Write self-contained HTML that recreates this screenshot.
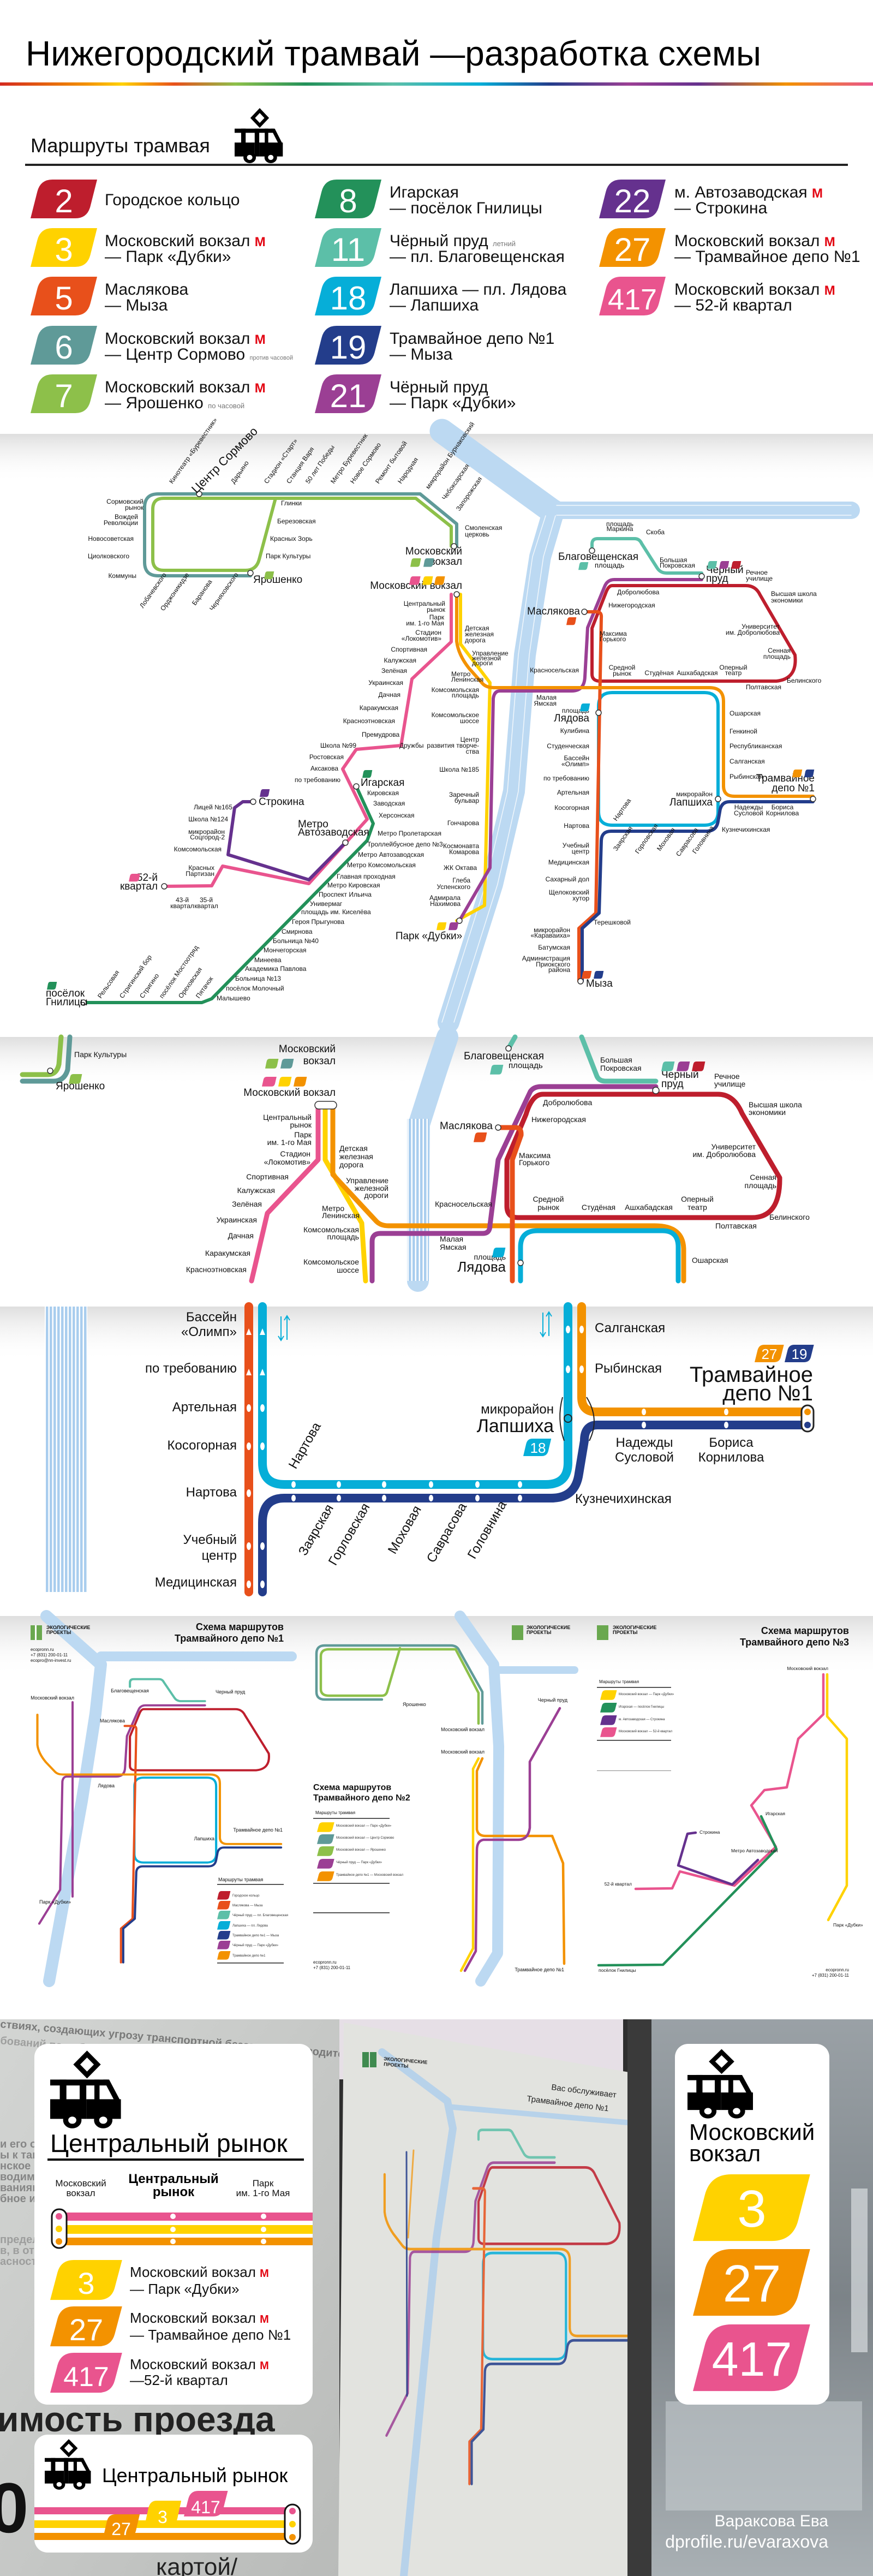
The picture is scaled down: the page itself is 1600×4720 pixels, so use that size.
<!DOCTYPE html>
<html lang="ru"><head><meta charset="utf-8"><title>Нижегородский трамвай — разработка схемы</title>
<style>
html,body{margin:0;padding:0;background:#fff;}
body{width:1600px;height:4720px;overflow:hidden;}
svg{display:block;}
.t{font-family:"Liberation Sans Narrow","Liberation Sans",sans-serif;}
.g{font-family:"Liberation Sans",sans-serif;}
.s{font-family:"Liberation Sans Narrow","Liberation Sans",sans-serif;font-size:12px;fill:#111;}
.sb{font-family:"Liberation Sans Narrow","Liberation Sans",sans-serif;font-size:19px;fill:#111;}
.e{text-anchor:end;}
.m{text-anchor:middle;}
.w{fill:#fff;}
.ln{fill:none;stroke-linejoin:round;stroke-linecap:round;}
</style></head>
<body>
<svg width="1600" height="4720" viewBox="0 0 1600 4720" xmlns="http://www.w3.org/2000/svg">
<defs>
<linearGradient id="rb" x1="0" x2="1" y1="0" y2="0">
<stop offset="0" stop-color="#d42a1f"/><stop offset=".1" stop-color="#f39200"/><stop offset=".14" stop-color="#ffd200"/><stop offset=".2" stop-color="#e8501b"/><stop offset=".27" stop-color="#8dc04a"/><stop offset=".35" stop-color="#23915a"/><stop offset=".45" stop-color="#5cbfa8"/><stop offset=".55" stop-color="#06aed8"/><stop offset=".63" stop-color="#233d8b"/><stop offset=".72" stop-color="#9b3f94"/><stop offset=".8" stop-color="#65318e"/><stop offset=".9" stop-color="#f39200"/><stop offset="1" stop-color="#e9548e"/>
</linearGradient>
<linearGradient id="gg" x1="0" x2="0" y1="0" y2="1"><stop offset="0" stop-color="#dedede"/><stop offset="1" stop-color="#fff" stop-opacity="0"/></linearGradient>
<linearGradient id="paper" x1="0" x2="1" y1="0" y2="1"><stop offset="0" stop-color="#d3d5d3"/><stop offset="1" stop-color="#b9bbb9"/></linearGradient>
<linearGradient id="win" x1="0" x2="0" y1="0" y2="1"><stop offset="0" stop-color="#9aa1a6"/><stop offset=".5" stop-color="#7c8388"/><stop offset="1" stop-color="#a9b0b4"/></linearGradient>
<pattern id="rv" width="7" height="7" patternUnits="userSpaceOnUse"><rect width="7" height="7" fill="#ffffff"/><rect width="4.5" height="7" fill="#a9cdee"/></pattern>
<path id="bd" d="M40,0 H122 L109.6,49 Q104,71 82,71 H0 L12.4,22 Q18,0 40,0 Z"/>
<g id="tram">
<polygon points="50,3 64,19 50,35 36,19" fill="none" stroke="#000" stroke-width="7"/>
<rect x="0" y="42" width="78" height="9" fill="#000"/>
<rect x="13" y="42" width="9" height="34" fill="#000"/>
<rect x="40" y="42" width="9" height="60" fill="#000"/>
<rect x="60" y="42" width="7" height="34" fill="#000"/>
<polygon points="72,42 80,42 96,76 88,76" fill="#000"/>
<rect x="0" y="72" width="40" height="30" fill="#000"/>
<rect x="49" y="72" width="47" height="30" fill="#000"/>
<circle cx="30" cy="104" r="9" fill="#fff" stroke="#000" stroke-width="7"/>
<circle cx="72" cy="104" r="9" fill="#fff" stroke="#000" stroke-width="7"/>
</g>
<g id="R" class="ln" stroke-width="6">
<path stroke="#5cbfa8" d="M1085,1009 L1085,997 Q1085,987 1095,987 L1163,987 Q1172,987 1176,996 L1204,1040 Q1210,1050 1222,1050 L1286,1050"/>
<path stroke="#9b3f94" d="M1286,1062 L1126,1062 Q1113,1062 1108,1075 L1077,1150 L1072,1240 Q1071,1266 1048,1266 L916,1266 Q906,1266 904,1280 L898,1590 L842,1687"/>
<path stroke="#be1e2d" d="M1122,1073 L1367,1073 Q1385,1073 1393,1090 L1457,1200 Q1462,1244 1423,1248 L1100,1248 Q1085,1248 1085,1235 L1085,1151 L1110,1087 Q1115,1073 1122,1073 Z"/>
<path stroke="#06aed8" d="M1122,1269 H1291 Q1316,1269 1316,1294 V1487 Q1316,1512 1291,1512 H1122 Q1097,1512 1097,1487 V1294 Q1097,1269 1122,1269 Z"/>
<path stroke="#e8501b" d="M1071,1121 L1094,1121 Q1103,1121 1102,1132 L1092,1673 L1061,1701 L1061,1798"/>
<path stroke="#233d8b" d="M1490,1469 L1337,1469 Q1321,1469 1319,1488 L1316,1505 Q1313,1523 1295,1523 L1120,1523 Q1103,1523 1102,1540 L1098,1673 L1067,1701 L1067,1798"/>
<path stroke="#f39200" d="M837,1089 L837,1175 Q840,1200 860,1225 L884,1252 Q891,1260 905,1260 L1300,1260 Q1326,1260 1326,1285 L1326,1440 Q1326,1459 1346,1459 L1490,1459"/>
</g>
<g id="L" class="ln" stroke-width="6">
<path stroke="#e9548e" d="M827,1089 L827,1176 L755,1244 L735,1366 L653,1373 L628,1409 L673,1501 L566,1619 L408,1587 L388,1623 L301,1624"/>
<path stroke="#23915a" d="M653,1441 L684,1509 L673,1540 L388,1830 L370,1837 L153,1837"/>
<path stroke="#65318e" d="M464,1469 L445,1469 L430,1480 L418,1566 L566,1612 L633,1544"/>
</g>
</defs>

<!-- ============ HEADER ============ -->
<rect width="1600" height="4720" fill="#fff"/>
<text x="47" y="120" class="t" font-size="64" fill="#000">Нижегородский трамвай —разработка схемы</text>
<rect x="0" y="151" width="1600" height="6" fill="url(#rb)"/>

<text x="56" y="279" class="t" font-size="36" fill="#111">Маршруты трамвая</text>
<use href="#tram" transform="translate(430,200) scale(0.92,0.85)"/>
<rect x="46" y="300" width="1508" height="4" fill="#222"/>

<!-- badges col1 -->
<use href="#bd" fill="#be1e2d" transform="translate(56,329)"/>
<use href="#bd" fill="#ffd200" transform="translate(56,418)"/>
<use href="#bd" fill="#e8501b" transform="translate(56,507)"/>
<use href="#bd" fill="#5f9a98" transform="translate(56,597)"/>
<use href="#bd" fill="#8dc04a" transform="translate(56,686)"/>
<use href="#bd" fill="#23915a" transform="translate(577,329)"/>
<use href="#bd" fill="#5cbfa8" transform="translate(577,418)"/>
<use href="#bd" fill="#06aed8" transform="translate(577,507)"/>
<use href="#bd" fill="#233d8b" transform="translate(577,597)"/>
<use href="#bd" fill="#9b3f94" transform="translate(577,686)"/>
<use href="#bd" fill="#65318e" transform="translate(1098,329)"/>
<use href="#bd" fill="#f39200" transform="translate(1098,418)"/>
<use href="#bd" fill="#e9548e" transform="translate(1098,507)"/>
<g class="t w m" font-size="60">
<text x="117" y="389">2</text><text x="117" y="478">3</text><text x="117" y="567">5</text><text x="117" y="657">6</text><text x="117" y="746">7</text>
<text x="638" y="389">8</text><text x="638" y="478">11</text><text x="638" y="567">18</text><text x="638" y="657">19</text><text x="638" y="746">21</text>
<text x="1159" y="389">22</text><text x="1159" y="478">27</text><text x="1159" y="567" font-size="54">417</text>
</g>
<g class="t" font-size="30" fill="#111">
<text x="192" y="376">Городское кольцо</text>
<text x="192" y="451">Московский вокзал <tspan fill="#e30613" font-weight="bold" font-size="24">М</tspan></text><text x="192" y="480">— Парк «Дубки»</text>
<text x="192" y="540">Маслякова</text><text x="192" y="569">— Мыза</text>
<text x="192" y="630">Московский вокзал <tspan fill="#e30613" font-weight="bold" font-size="24">М</tspan></text><text x="192" y="659">— Центр Сормово <tspan font-size="11" fill="#777">против часовой</tspan></text>
<text x="192" y="719">Московский вокзал <tspan fill="#e30613" font-weight="bold" font-size="24">М</tspan></text><text x="192" y="748">— Ярошенко <tspan font-size="13" fill="#777">по часовой</tspan></text>
<text x="714" y="362">Игарская</text><text x="714" y="391">— посёлок Гнилицы</text>
<text x="714" y="451">Чёрный пруд <tspan font-size="13" fill="#777">летний</tspan></text><text x="714" y="480">— пл. Благовещенская</text>
<text x="714" y="540">Лапшиха — пл. Лядова</text><text x="714" y="569">— Лапшиха</text>
<text x="714" y="630">Трамвайное депо №1</text><text x="714" y="659">— Мыза</text>
<text x="714" y="719">Чёрный пруд</text><text x="714" y="748">— Парк «Дубки»</text>
<text x="1236" y="362">м. Автозаводская <tspan fill="#e30613" font-weight="bold" font-size="24">М</tspan></text><text x="1236" y="391">— Строкина</text>
<text x="1236" y="451">Московский вокзал <tspan fill="#e30613" font-weight="bold" font-size="24">М</tspan></text><text x="1236" y="480">— Трамвайное депо №1</text>
<text x="1236" y="540">Московский вокзал <tspan fill="#e30613" font-weight="bold" font-size="24">М</tspan></text><text x="1236" y="569">— 52-й квартал</text>
</g>

<!-- ============ MAIN MAP ============ -->
<rect x="0" y="795" width="1600" height="90" fill="url(#gg)"/>
<g class="ln" stroke="#bcd9f2">
<path stroke-width="45" d="M810,790 L1010,935"/>
<path stroke-width="32" d="M1010,935 L1560,935"/>
<path stroke-width="40" d="M1015,935 L990,1020 L962,1200 L942,1450 L902,1620 L822,1873"/>
</g>
<g class="ln" stroke="#fff" stroke-width="1.5" opacity=".8">
<path d="M1020,926 L1560,926"/><path d="M1020,944 L1560,944"/>
<path d="M1000,945 L976,1020 L950,1200 L930,1450 L890,1620 L810,1873"/>
<path d="M1018,945 L996,1020 L970,1200 L950,1450 L912,1620 L832,1873"/>
</g>
<g class="ln" stroke-width="6">
<path stroke="#5f9a98" d="M837,1001 L837,960 L770,905 L290,905 Q265,905 265,930 L265,1030 Q265,1055 290,1055 L459,1055"/>
<path stroke="#8dc04a" d="M827,1001 L827,965 L762,913 L300,913 Q280,913 280,933 L280,1025 Q280,1045 300,1045 L450,1045 Q470,1045 475,1025 L505,913"/>
<path stroke="#ffd200" d="M844,1089 L844,1180 L898,1251 L888,1659 L837,1687"/>
</g>
<use href="#L"/>
<use href="#R"/>
<g fill="#fff" stroke="#333" stroke-width="1.5">
<circle cx="837" cy="1089" r="5"/><circle cx="832" cy="1001" r="5"/><circle cx="459" cy="1050" r="5"/><circle cx="1085" cy="1009" r="5"/><circle cx="1286" cy="1056" r="5"/><circle cx="1071" cy="1121" r="5"/><circle cx="1490" cy="1464" r="5"/><circle cx="1064" cy="1798" r="5"/><circle cx="842" cy="1687" r="5"/><circle cx="301" cy="1624" r="5"/><circle cx="153" cy="1837" r="5"/><circle cx="464" cy="1469" r="5"/><circle cx="653" cy="1441" r="5"/><circle cx="633" cy="1544" r="5"/><circle cx="1097" cy="1306" r="5"/><circle cx="1316" cy="1464" r="5"/><circle cx="365" cy="905" r="5"/>
</g>
<g class="s">
<text x="263" y="923" class="e">Сормовский</text><text x="263" y="934" class="e">рынок</text>
<text x="253" y="951" class="e">Вождей</text><text x="253" y="962" class="e">Революции</text>
<text x="245" y="991" class="e">Новосоветская</text>
<text x="237" y="1023" class="e">Циолковского</text>
<text x="250" y="1059" class="e">Коммуны</text>
<text x="515" y="926">Глинки</text><text x="508" y="959">Березовская</text><text x="495" y="991">Красных Зорь</text><text x="487" y="1023">Парк Культуры</text>
<text x="852" y="971">Смоленская</text><text x="852" y="983">церковь</text>
<text x="816" y="1110" class="e">Центральный</text><text x="816" y="1121" class="e">рынок</text>
<text x="814" y="1135" class="e">Парк</text><text x="814" y="1146" class="e">им. 1-го Мая</text>
<text x="809" y="1163" class="e">Стадион</text><text x="809" y="1174" class="e">«Локомотив»</text>
<text x="783" y="1194" class="e">Спортивная</text><text x="763" y="1214" class="e">Калужская</text><text x="746" y="1233" class="e">Зелёная</text><text x="739" y="1255" class="e">Украинская</text><text x="734" y="1277" class="e">Дачная</text><text x="730" y="1301" class="e">Каракумская</text><text x="724" y="1325" class="e">Красноэтновская</text>
<text x="663" y="1350">Премудрова</text><text x="653" y="1370" class="e">Школа №99</text><text x="732" y="1370">Дружбы</text><text x="630" y="1391" class="e">Ростовская</text><text x="620" y="1412" class="e">Аксакова</text><text x="624" y="1433" class="e">по требованию</text>
<text x="673" y="1457">Кировская</text><text x="684" y="1476">Заводская</text><text x="694" y="1498">Херсонская</text><text x="692" y="1531">Метро Пролетарская</text><text x="673" y="1551">Троллейбусное депо №3</text><text x="656" y="1570">Метро Автозаводская</text><text x="636" y="1589">Метро Комсомольская</text><text x="617" y="1610">Главная проходная</text><text x="600" y="1626">Метро Кировская</text><text x="584" y="1643">Проспект Ильича</text><text x="568" y="1660">Универмаг</text><text x="552" y="1675">площадь им. Киселёва</text><text x="535" y="1693">Героя Прыгунова</text><text x="516" y="1711">Смирнова</text><text x="500" y="1728">Больница №40</text><text x="483" y="1745">Мончегорская</text><text x="466" y="1763">Минеева</text><text x="449" y="1779">Академика Павлова</text><text x="431" y="1797">Больница №13</text><text x="414" y="1815">посёлок Молочный</text><text x="397" y="1833">Малышево</text>
<text x="426" y="1483" class="e">Лицей №165</text><text x="418" y="1505" class="e">Школа №124</text><text x="412" y="1528" class="e">микрорайон</text><text x="412" y="1538" class="e">Соцгород-2</text><text x="406" y="1560" class="e">Комсомольская</text><text x="393" y="1594" class="e">Красных</text><text x="393" y="1605" class="e">Партизан</text>
<text x="334" y="1653" class="m">43-й</text><text x="334" y="1664" class="m">квартал</text><text x="378" y="1653" class="m">35-й</text><text x="378" y="1664" class="m">квартал</text>
<text x="852" y="1155">Детская</text><text x="852" y="1166">железная</text><text x="852" y="1177">дорога</text>
<text x="865" y="1201">Управление</text><text x="865" y="1210">железной</text><text x="865" y="1219">дороги</text>
<text x="827" y="1239">Метро</text><text x="827" y="1249">Ленинская</text>
<text x="878" y="1268" class="e">Комсомольская</text><text x="878" y="1278" class="e">площадь</text>
<text x="878" y="1314" class="e">Комсомольское</text><text x="878" y="1325" class="e">шоссе</text>
<text x="878" y="1359" class="e">Центр</text><text x="878" y="1370" class="e">развития творче-</text><text x="878" y="1381" class="e">ства</text>
<text x="878" y="1414" class="e">Школа №185</text><text x="878" y="1460" class="e">Заречный</text><text x="878" y="1471" class="e">бульвар</text><text x="878" y="1512" class="e">Гончарова</text><text x="878" y="1554" class="e">Космонавта</text><text x="878" y="1565" class="e">Комарова</text><text x="874" y="1594" class="e">ЖК Октава</text><text x="862" y="1617" class="e">Глеба</text><text x="862" y="1629" class="e">Успенского</text><text x="844" y="1649" class="e">Адмирала</text><text x="844" y="1660" class="e">Нахимова</text>
<text x="1136" y="964" class="m">площадь</text><text x="1136" y="973" class="m">Маркина</text><text x="1184" y="979">Скоба</text>
<text x="1209" y="1030">Большая</text><text x="1209" y="1040">Покровская</text>
<text x="1367" y="1053">Речное</text><text x="1367" y="1064">училище</text>
<text x="1131" y="1089">Добролюбова</text><text x="1115" y="1113">Нижегородская</text>
<text x="1099" y="1165">Максима</text><text x="1099" y="1175">Горького</text>
<text x="1413" y="1092">Высшая школа</text><text x="1413" y="1104">экономики</text>
<text x="1429" y="1152" class="e">Университет</text><text x="1429" y="1163" class="e">им. Добролюбова</text>
<text x="1449" y="1196" class="e">Сенная</text><text x="1449" y="1207" class="e">площадь</text>
<text x="1442" y="1251">Белинского</text><text x="1367" y="1263">Полтавская</text>
<text x="1344" y="1227" class="m">Оперный</text><text x="1344" y="1237" class="m">театр</text><text x="1278" y="1237" class="m">Ашхабадская</text><text x="1208" y="1237" class="m">Студёная</text><text x="1140" y="1227" class="m">Средной</text><text x="1140" y="1238" class="m">рынок</text>
<text x="1061" y="1232" class="e">Красносельская</text><text x="1020" y="1282" class="e">Малая</text><text x="1020" y="1293" class="e">Ямская</text>
<text x="1080" y="1306" class="e">площадь</text>
<text x="1080" y="1343" class="e">Кулибина</text><text x="1080" y="1371" class="e">Студенческая</text><text x="1080" y="1393" class="e">Бассейн</text><text x="1080" y="1404" class="e">«Олимп»</text><text x="1080" y="1430" class="e">по требованию</text><text x="1080" y="1456" class="e">Артельная</text><text x="1080" y="1484" class="e">Косогорная</text><text x="1080" y="1517" class="e">Нартова</text><text x="1080" y="1553" class="e">Учебный</text><text x="1080" y="1564" class="e">центр</text><text x="1080" y="1584" class="e">Медицинская</text><text x="1080" y="1615" class="e">Сахарный дол</text><text x="1080" y="1639" class="e">Щелоковский</text><text x="1080" y="1650" class="e">хутор</text>
<text x="1088" y="1694">Терешковой</text><text x="1045" y="1708" class="e">микрорайон</text><text x="1045" y="1718" class="e">«Караваиха»</text><text x="1045" y="1740" class="e">Батумская</text><text x="1045" y="1760" class="e">Администрация</text><text x="1045" y="1771" class="e">Приокского</text><text x="1045" y="1781" class="e">района</text>
<text x="1337" y="1311">Ошарская</text><text x="1337" y="1344">Генкиной</text><text x="1337" y="1371">Республиканская</text><text x="1337" y="1399">Салганская</text><text x="1337" y="1427">Рыбинская</text>
<text x="1306" y="1459" class="e">микрорайон</text>
<text x="1372" y="1483" class="m">Надежды</text><text x="1372" y="1494" class="m">Сусловой</text><text x="1434" y="1483" class="m">Бориса</text><text x="1434" y="1494" class="m">Корнилова</text>
<text x="1323" y="1524">Кузнечихинская</text>
<text transform="translate(316,887) rotate(-55)">Кинотеатр «Буревестник»</text>
<text transform="translate(429,887) rotate(-55)">Дарьино</text><text transform="translate(490,887) rotate(-55)">Стадион «Старт»</text><text transform="translate(531,887) rotate(-55)">Станция Варя</text><text transform="translate(566,887) rotate(-55)">50 лет Победы</text><text transform="translate(612,887) rotate(-55)">Метро Буревестник</text><text transform="translate(648,887) rotate(-55)">Новое Сормово</text><text transform="translate(694,887) rotate(-55)">Ремонт бытовой</text><text transform="translate(735,887) rotate(-55)">Народная</text><text transform="translate(786,897) rotate(-55)">микрорайон Бурнаковский</text><text transform="translate(816,917) rotate(-55)">Чебоксарская</text><text transform="translate(842,937) rotate(-55)">Запорожская</text>
<text transform="translate(262,1115) rotate(-55)">Лобачевского</text><text transform="translate(300,1120) rotate(-55)">Орджоникидзе</text><text transform="translate(358,1110) rotate(-55)">Баранова</text><text transform="translate(390,1120) rotate(-55)">Черняховского</text>
<text transform="translate(185,1830) rotate(-55)">Рельсовая</text><text transform="translate(225,1830) rotate(-55)">Стригинский бор</text><text transform="translate(262,1830) rotate(-55)">Стригино</text><text transform="translate(298,1830) rotate(-55)">посёлок Мостоотряд</text><text transform="translate(333,1830) rotate(-55)">Ореховская</text><text transform="translate(365,1830) rotate(-55)">Пятачок</text>
<text transform="translate(1130,1560) rotate(-55)">Заярская</text><text transform="translate(1170,1565) rotate(-55)">Горловская</text><text transform="translate(1210,1560) rotate(-55)">Моховая</text><text transform="translate(1245,1570) rotate(-55)">Саврасова</text><text transform="translate(1275,1565) rotate(-55)">Головнина</text><text transform="translate(1130,1505) rotate(-55)">Нартова</text>
</g>
<g class="sb">
<text x="847" y="1016" class="e">Московский</text><text x="847" y="1035" class="e">вокзал</text>
<text x="847" y="1079" class="e">Московский вокзал</text>
<text x="464" y="1068">Ярошенко</text>
<text x="1023" y="1026">Благовещенская</text><text x="1090" y="1040" font-size="13">площадь</text>
<text x="1294" y="1050">Черный</text><text x="1294" y="1066">пруд</text>
<text x="1063" y="1126" class="e">Маслякова</text>
<text x="1080" y="1322" class="e">Лядова</text>
<text x="1493" y="1432" class="e">Трамвайное</text><text x="1493" y="1450" class="e">депо №1</text>
<text x="1306" y="1476" class="e">Лапшиха</text>
<text x="1074" y="1808">Мыза</text>
<text x="786" y="1721" class="m">Парк «Дубки»</text>
<text x="661" y="1440">Игарская</text><text x="474" y="1475">Строкина</text>
<text x="546" y="1516">Метро</text><text x="546" y="1531">Автозаводская</text>
<text x="289" y="1614" class="e">52-й</text><text x="289" y="1630" class="e">квартал</text>
<text x="84" y="1826">посёлок</text><text x="84" y="1842">Гнилицы</text>
<text transform="translate(360,905) rotate(-45)" font-size="22">Центр Сормово</text>
</g>
<!-- small badges main map -->
<g>
<use href="#bd" fill="#8dc04a" transform="translate(752,1023) scale(.16,.22)"/>
<use href="#bd" fill="#5f9a98" transform="translate(776,1023) scale(.16,.22)"/>
<use href="#bd" fill="#e9548e" transform="translate(750,1056) scale(.17,.22)"/>
<use href="#bd" fill="#ffd200" transform="translate(774,1056) scale(.16,.22)"/>
<use href="#bd" fill="#f39200" transform="translate(796,1056) scale(.16,.22)"/>
<use href="#bd" fill="#5cbfa8" transform="translate(1060,1030) scale(.15,.2)"/>
<use href="#bd" fill="#5cbfa8" transform="translate(1296,1028) scale(.15,.2)"/>
<use href="#bd" fill="#9b3f94" transform="translate(1318,1028) scale(.15,.2)"/>
<use href="#bd" fill="#be1e2d" transform="translate(1340,1028) scale(.15,.2)"/>
<use href="#bd" fill="#e8501b" transform="translate(1038,1131) scale(.15,.2)"/>
<use href="#bd" fill="#06aed8" transform="translate(1063,1289) scale(.15,.2)"/>
<use href="#bd" fill="#f39200" transform="translate(1452,1410) scale(.15,.2)"/>
<use href="#bd" fill="#233d8b" transform="translate(1474,1410) scale(.15,.2)"/>
<use href="#bd" fill="#e8501b" transform="translate(1066,1779) scale(.15,.2)"/>
<use href="#bd" fill="#233d8b" transform="translate(1088,1779) scale(.15,.2)"/>
<use href="#bd" fill="#ffd200" transform="translate(800,1690) scale(.15,.2)"/>
<use href="#bd" fill="#9b3f94" transform="translate(822,1690) scale(.15,.2)"/>
<use href="#bd" fill="#23915a" transform="translate(664,1411) scale(.15,.2)"/>
<use href="#bd" fill="#65318e" transform="translate(476,1446) scale(.15,.2)"/>
<use href="#bd" fill="#e9548e" transform="translate(236,1601) scale(.17,.2)"/>
<use href="#bd" fill="#23915a" transform="translate(86,1799) scale(.15,.2)"/>
<use href="#bd" fill="#8dc04a" transform="translate(484,1047) scale(.15,.2)"/>
</g>

<!-- ============ SECTION 2 ============ -->
<rect x="0" y="1900" width="1600" height="90" fill="url(#gg)"/>
<g class="ln">
<path stroke="#bcd9f2" stroke-width="40" d="M820,1900 L800,1960 L768,2060 L766,2347"/>
</g>
<rect x="746" y="2050" width="40" height="297" fill="url(#rv)"/>
<g class="ln" stroke-width="9">
<path stroke="#8dc04a" d="M112,1900 L108,1950 Q104,1969 88,1969 L41,1969"/>
<path stroke="#5f9a98" d="M128,1900 L124,1960 Q118,1981 98,1981 L41,1981"/>
<path stroke="#5cbfa8" d="M944,1900 L932,1921"/>
<path stroke="#5cbfa8" d="M1066,1900 L1094,1972 Q1098,1981 1110,1981 L1202,1981"/>
<path stroke="#e9548e" d="M583,2024 L583,2125 L490,2223 L461,2347"/>
<path stroke="#ffd200" d="M596,2024 L596,2125 L663,2241 L670,2347"/>
<path stroke="#f39200" d="M610,2024 L610,2152 L690,2238 Q698,2246 712,2246 L1200,2246 Q1253,2246 1253,2290 L1253,2347"/>
<path stroke="#9b3f94" d="M682,2347 L682,2275 Q682,2260 697,2260 L885,2260 Q898,2260 898,2245 L913,2125 L972,2000 Q978,1991 992,1991 L1202,1991"/>
<path stroke="#be1e2d" d="M1202,2005 L1316,2005 Q1345,2005 1360,2040 L1429,2158 Q1430,2231 1378,2231 L949,2231 Q929,2231 929,2210 L929,2125 L964,2042 Q975,2005 995,2005 Z"/>
<path stroke="#e8501b" d="M913,2066 L945,2066 Q956,2066 955,2080 L939,2125 L939,2347"/>
<path stroke="#06aed8" d="M954,2347 L954,2285 Q954,2255 985,2255 L1214,2255 Q1243,2255 1243,2285 L1243,2347"/>
</g>
<g fill="#fff" stroke="#333" stroke-width="1.5"><rect x="577" y="2018" width="40" height="14" rx="7"/><circle cx="913" cy="2066" r="5"/><circle cx="932" cy="1921" r="5"/><circle cx="954" cy="2314" r="5"/><circle cx="1202" cy="1998" r="6"/><circle cx="92" cy="1962" r="5"/></g>
<g class="s" font-size="14">
<text x="136" y="1937" font-size="14">Парк Культуры</text>
<text x="1100" y="1947" font-size="14">Большая</text><text x="1100" y="1962" font-size="14">Покровская</text>
<text x="1309" y="1977" font-size="14">Речное</text><text x="1309" y="1991" font-size="14">училище</text>
<text x="995" y="2025" font-size="14">Добролюбова</text><text x="974" y="2056" font-size="14">Нижегородская</text>
<text x="1372" y="2029" font-size="14">Высшая школа</text><text x="1372" y="2043" font-size="14">экономики</text>
<text x="1385" y="2106" font-size="14" class="e">Университет</text><text x="1385" y="2120" font-size="14" class="e">им. Добролюбова</text>
<text x="951" y="2122" font-size="14">Максима</text><text x="951" y="2135" font-size="14">Горького</text>
<text x="1423" y="2162" font-size="14" class="e">Сенная</text><text x="1423" y="2177" font-size="14" class="e">площадь</text>
<text x="571" y="2052" font-size="14" class="e">Центральный</text><text x="571" y="2066" font-size="14" class="e">рынок</text>
<text x="571" y="2084" font-size="14" class="e">Парк</text><text x="571" y="2098" font-size="14" class="e">им. 1-го Мая</text>
<text x="569" y="2119" font-size="14" class="e">Стадион</text><text x="569" y="2134" font-size="14" class="e">«Локомотив»</text>
<text x="622" y="2109" font-size="14">Детская</text><text x="622" y="2124" font-size="14">железная</text><text x="622" y="2139" font-size="14">дорога</text>
<text x="529" y="2161" font-size="14" class="e">Спортивная</text><text x="504" y="2186" font-size="14" class="e">Калужская</text>
<text x="712" y="2168" font-size="14" class="e">Управление</text><text x="712" y="2182" font-size="14" class="e">железной</text><text x="712" y="2195" font-size="14" class="e">дороги</text>
<text x="480" y="2211" font-size="14" class="e">Зелёная</text><text x="902" y="2211" font-size="14" class="e">Красносельская</text>
<text x="1005" y="2202" font-size="14" class="m">Средной</text><text x="1005" y="2217" font-size="14" class="m">рынок</text>
<text x="1097" y="2217" font-size="14" class="m">Студёная</text><text x="1189" y="2217" font-size="14" class="m">Ашхабадская</text>
<text x="1278" y="2202" font-size="14" class="m">Оперный</text><text x="1278" y="2217" font-size="14" class="m">театр</text>
<text x="590" y="2219" font-size="14">Метро</text><text x="590" y="2232" font-size="14">Ленинская</text>
<text x="1410" y="2235" font-size="14">Белинского</text><text x="471" y="2240" font-size="14" class="e">Украинская</text><text x="1311" y="2251" font-size="14">Полтавская</text>
<text x="658" y="2258" font-size="14" class="e">Комсомольская</text><text x="658" y="2271" font-size="14" class="e">площадь</text>
<text x="465" y="2269" font-size="14" class="e">Дачная</text><text x="806" y="2275" font-size="14">Малая</text><text x="806" y="2290" font-size="14">Ямская</text>
<text x="927" y="2308" font-size="14" class="e">площадь</text><text x="459" y="2301" font-size="14" class="e">Каракумская</text><text x="1268" y="2314" font-size="14">Ошарская</text>
<text x="658" y="2317" font-size="14" class="e">Комсомольское</text><text x="658" y="2332" font-size="14" class="e">шоссе</text><text x="452" y="2331" font-size="14" class="e">Красноэтновская</text>
</g>
<g class="sb" font-size="22">
<text x="615" y="1928" class="e">Московский</text><text x="615" y="1950" class="e">вокзал</text>
<text x="615" y="2008" class="e">Московский вокзал</text>
<text x="102" y="1996">Ярошенко</text>
<text x="850" y="1941">Благовещенская</text><text x="932" y="1957" font-size="15">площадь</text>
<text x="1212" y="1975">Черный</text><text x="1212" y="1992">пруд</text>
<text x="903" y="2069" class="e">Маслякова</text>
<text x="927" y="2330" class="e" font-size="26">Лядова</text>
</g>
<g>
<use href="#bd" fill="#8dc04a" transform="translate(486,1940) scale(.2,.25)"/><use href="#bd" fill="#5f9a98" transform="translate(514,1940) scale(.2,.25)"/>
<use href="#bd" fill="#e9548e" transform="translate(480,1973) scale(.22,.25)"/><use href="#bd" fill="#ffd200" transform="translate(510,1973) scale(.2,.25)"/><use href="#bd" fill="#f39200" transform="translate(538,1973) scale(.2,.25)"/>
<use href="#bd" fill="#8dc04a" transform="translate(126,1968) scale(.2,.25)"/>
<use href="#bd" fill="#5cbfa8" transform="translate(898,1951) scale(.2,.25)"/>
<use href="#bd" fill="#5cbfa8" transform="translate(1212,1945) scale(.2,.25)"/><use href="#bd" fill="#9b3f94" transform="translate(1240,1945) scale(.2,.25)"/><use href="#bd" fill="#be1e2d" transform="translate(1268,1945) scale(.2,.25)"/>
<use href="#bd" fill="#e8501b" transform="translate(868,2075) scale(.2,.25)"/>
<use href="#bd" fill="#06aed8" transform="translate(902,2286) scale(.2,.25)"/>
</g>

<!-- ============ SECTION 3 Lapshikha ============ -->
<rect x="0" y="2394" width="1600" height="100" fill="url(#gg)"/>
<rect x="82" y="2394" width="78" height="523" fill="url(#rv)"/>
<g class="ln" stroke-width="16" stroke-linecap="butt">
<path stroke="#e8501b" d="M456,2394 L456,2917"/>
<path stroke="#06aed8" d="M481,2394 L481,2680 Q481,2720 521,2720 L1000,2720 Q1041,2720 1041,2680 L1041,2394"/>
<path stroke="#f39200" d="M1066,2394 L1066,2560 Q1066,2587 1093,2587 L1480,2587"/>
<path stroke="#233d8b" d="M1480,2611 L1095,2611 Q1071,2611 1071,2640 L1061,2700 Q1055,2745 1010,2745 L521,2745 Q481,2745 481,2790 L481,2917"/>
</g>
<g fill="#fff"><ellipse cx="456" cy="2580" rx="4" ry="7"/><ellipse cx="481" cy="2580" rx="4" ry="7"/><ellipse cx="456" cy="2650" rx="4" ry="7"/><ellipse cx="481" cy="2650" rx="4" ry="7"/><ellipse cx="456" cy="2736" rx="4" ry="7"/><ellipse cx="456" cy="2833" rx="4" ry="7"/><ellipse cx="481" cy="2833" rx="4" ry="7"/><ellipse cx="456" cy="2903" rx="4" ry="7"/><ellipse cx="481" cy="2903" rx="4" ry="7"/>
<ellipse cx="1041" cy="2436" rx="4" ry="7"/><ellipse cx="1066" cy="2436" rx="4" ry="7"/><ellipse cx="1041" cy="2509" rx="4" ry="7"/><ellipse cx="1066" cy="2509" rx="4" ry="7"/>
<ellipse cx="1180" cy="2587" rx="4" ry="6"/><ellipse cx="1331" cy="2587" rx="4" ry="6"/><ellipse cx="1180" cy="2611" rx="4" ry="6"/><ellipse cx="1331" cy="2611" rx="4" ry="6"/>
<ellipse cx="538" cy="2720" rx="4" ry="6"/><ellipse cx="621" cy="2720" rx="4" ry="6"/><ellipse cx="704" cy="2720" rx="4" ry="6"/><ellipse cx="790" cy="2720" rx="4" ry="6"/><ellipse cx="875" cy="2720" rx="4" ry="6"/><ellipse cx="953" cy="2720" rx="4" ry="6"/>
<ellipse cx="538" cy="2745" rx="4" ry="6"/><ellipse cx="621" cy="2745" rx="4" ry="6"/><ellipse cx="704" cy="2745" rx="4" ry="6"/><ellipse cx="790" cy="2745" rx="4" ry="6"/><ellipse cx="875" cy="2745" rx="4" ry="6"/><ellipse cx="953" cy="2745" rx="4" ry="6"/></g>
<polygon points="456,2434 451,2446 461,2446" fill="#fff"/><polygon points="481,2434 476,2446 486,2446" fill="#fff"/><polygon points="456,2508 451,2520 461,2520" fill="#fff"/><polygon points="481,2508 476,2520 486,2520" fill="#fff"/>
<rect x="1469" y="2575" width="22" height="48" rx="11" fill="#fff" stroke="#222" stroke-width="3"/><circle cx="1480" cy="2587" r="6" fill="#f39200"/><circle cx="1480" cy="2611" r="6" fill="#233d8b"/>
<circle cx="1041" cy="2599" r="7" fill="#06aed8" stroke="#222" stroke-width="2"/>
<path d="M1031,2560 Q1020,2600 1034,2640" fill="none" stroke="#222" stroke-width="2"/><path d="M1075,2560 Q1100,2600 1080,2640" fill="none" stroke="#222" stroke-width="2"/>
<g stroke="#06aed8" stroke-width="2" fill="none"><path d="M515,2412 V2455 M510,2448 L515,2456 L520,2448 M526,2455 V2412 M521,2419 L526,2411 L531,2419"/><path d="M995,2405 V2448 M990,2441 L995,2449 L1000,2441 M1006,2448 V2405 M1001,2412 L1006,2404 L1011,2412"/></g>
<g class="t" font-size="24" fill="#111">
<text x="434" y="2421" class="e">Бассейн</text><text x="434" y="2448" class="e">«Олимп»</text>
<text x="434" y="2515" class="e">по требованию</text><text x="434" y="2586" class="e">Артельная</text><text x="434" y="2656" class="e">Косогорная</text><text x="434" y="2742" class="e">Нартова</text>
<text x="434" y="2829" class="e">Учебный</text><text x="434" y="2858" class="e">центр</text><text x="434" y="2907" class="e">Медицинская</text>
<text x="1090" y="2441">Салганская</text><text x="1090" y="2515">Рыбинская</text>
<text x="1015" y="2590" class="e">микрорайон</text><text x="1015" y="2624" class="e" font-size="34">Лапшиха</text>
<text x="1181" y="2651" class="m">Надежды</text><text x="1181" y="2678" class="m">Сусловой</text><text x="1340" y="2651" class="m">Бориса</text><text x="1340" y="2678" class="m">Корнилова</text>
<text x="1054" y="2754">Кузнечихинская</text>
<text x="1490" y="2532" class="e" font-size="40">Трамвайное</text><text x="1490" y="2566" class="e" font-size="40">депо №1</text>
<text transform="translate(542,2693) rotate(-60)">Нартова</text>
<text transform="translate(560,2852) rotate(-60)">Заярская</text><text transform="translate(615,2870) rotate(-60)">Горловская</text><text transform="translate(724,2849) rotate(-60)">Моховая</text><text transform="translate(795,2865) rotate(-60)">Саврасова</text><text transform="translate(870,2858) rotate(-60)">Головнина</text>
</g>
<use href="#bd" fill="#f39200" transform="translate(1383,2464) scale(.44,.45)"/><use href="#bd" fill="#233d8b" transform="translate(1438,2464) scale(.44,.45)"/>
<use href="#bd" fill="#06aed8" transform="translate(959,2636) scale(.42,.45)"/>
<g class="t w m" font-size="26"><text x="1410" y="2490">27</text><text x="1465" y="2490">19</text><text x="986" y="2662">18</text></g>

<!-- ============ SECTION 4 POSTERS ============ -->
<rect x="0" y="2961" width="1600" height="110" fill="url(#gg)"/>
<!-- poster 1 -->
<g class="ln" stroke="#bcd9f2"><path stroke-width="22" d="M85,2961 L185,3050 L175,3140 L150,3300 L90,3630"/><path stroke-width="18" d="M185,3035 L535,3035"/></g>
<g transform="matrix(0.684,0,0,0.64,-504,2445)" stroke-width="1.4"><use href="#R" style="stroke-width:8"/></g>
<path class="ln" stroke="#9b3f94" stroke-width="4" d="M133,3119 L133,3475"/>
<rect x="56" y="2978" width="21" height="27" fill="#6aa84f"/><rect x="64" y="2978" width="3" height="27" fill="#fff"/>
<g class="g" fill="#111" font-size="9"><text x="85" y="2985" font-weight="bold">ЭКОЛОГИЧЕСКИЕ</text><text x="85" y="2994" font-weight="bold">ПРОЕКТЫ</text>
<text x="56" y="3025" font-size="8">ecopronn.ru</text><text x="56" y="3035" font-size="8">+7 (831) 200-01-11</text><text x="56" y="3045" font-size="8">ecopro@nn-invest.ru</text></g>
<g class="g" fill="#111" font-size="18" font-weight="bold"><text x="520" y="2987" class="e">Схема маршрутов</text><text x="520" y="3008" class="e">Трамвайного депо №1</text></g>
<g class="g" font-size="7.5" fill="#111"><text x="136" y="3114" class="e" font-size="9">Московский вокзал</text><text x="238" y="3101" font-size="9" class="m">Благовещенская</text><text x="395" y="3103" font-size="9">Черный пруд</text><text x="229" y="3156" font-size="9" class="e">Маслякова</text><text x="518" y="3356" font-size="9" class="e">Трамвайное депо №1</text><text x="393" y="3372" font-size="9" class="e">Лапшиха</text><text x="210" y="3275" font-size="9" class="e">Лядова</text><text x="130" y="3488" font-size="9" class="e">Парк «Дубки»</text></g>
<text x="400" y="3447" class="g" font-size="9" fill="#111">Маршруты трамвая</text><rect x="398" y="3452" width="122" height="1.5" fill="#222"/>
<g><use href="#bd" fill="#be1e2d" transform="translate(398,3465) scale(.2,.22)"/><use href="#bd" fill="#e8501b" transform="translate(398,3483) scale(.2,.22)"/><use href="#bd" fill="#5cbfa8" transform="translate(398,3501) scale(.2,.22)"/><use href="#bd" fill="#06aed8" transform="translate(398,3520) scale(.2,.22)"/><use href="#bd" fill="#233d8b" transform="translate(398,3538) scale(.2,.22)"/><use href="#bd" fill="#9b3f94" transform="translate(398,3556) scale(.2,.22)"/><use href="#bd" fill="#f39200" transform="translate(398,3575) scale(.2,.22)"/></g>
<g class="g" font-size="6" fill="#333"><text x="426" y="3475">Городское кольцо</text><text x="426" y="3493">Маслякова — Мыза</text><text x="426" y="3511">Чёрный пруд — пл. Благовещенская</text><text x="426" y="3530">Лапшиха — пл. Лядова</text><text x="426" y="3548">Трамвайное депо №1 — Мыза</text><text x="426" y="3566">Чёрный пруд — Парк «Дубки»</text><text x="426" y="3585">Трамвайное депо №1</text></g>
<rect x="398" y="3596" width="122" height="1.5" fill="#222"/>

<!-- poster 2 -->
<g class="ln" stroke="#bcd9f2"><path stroke-width="20" d="M843,2961 L905,3050 L914,3200 L912,3579 L881,3630"/><path stroke-width="14" d="M905,3060 L1053,3060"/></g>
<g class="ln" stroke-width="4.5">
<path stroke="#5f9a98" d="M884,3158 L884,3100 L842,3025 Q838,3015 826,3015 L595,3015 Q580,3015 580,3030 L580,3100 Q580,3114 595,3114 L700,3114"/>
<path stroke="#8dc04a" d="M877,3158 L877,3102 L835,3022 L603,3022 Q588,3022 588,3035 L588,3095 Q588,3107 603,3107 L700,3107 Q708,3107 710,3098 L733,3020"/>
<path stroke="#ffd200" d="M877,3222 L867,3241 L867,3570 L845,3611"/>
<path stroke="#f39200" d="M884,3222 L874,3245 L874,3352 Q876,3364 890,3364 L1012,3364 L1032,3414 L1034,3598"/>
<path stroke="#9b3f94" d="M1026,3130 L971,3228 L971,3349 Q968,3371 950,3371 L886,3371 Q874,3373 874,3390 L872,3575 L852,3611"/>
</g>
<rect x="1118" y="2978" width="21" height="27" fill="#6aa84f" transform="translate(-180,0)"/>
<g class="g" fill="#111" font-size="9" font-weight="bold"><text x="965" y="2985">ЭКОЛОГИЧЕСКИЕ</text><text x="965" y="2994">ПРОЕКТЫ</text></g>
<g class="g" fill="#111" font-size="16" font-weight="bold"><text x="574" y="3280">Схема маршрутов</text><text x="574" y="3299">Трамвайного депо №2</text></g>
<g class="g" font-size="8" fill="#111"><text x="888" y="3172" class="e" font-size="9">Московский вокзал</text><text x="888" y="3213" class="e" font-size="9">Московский вокзал</text><text x="738" y="3126" font-size="9">Ярошенко</text><text x="1040" y="3118" font-size="9" class="e">Черный пруд</text><text x="1034" y="3612" font-size="9" class="e">Трамвайное депо №1</text></g>
<text x="578" y="3324" class="g" font-size="8" fill="#111">Маршруты трамвая</text><rect x="574" y="3331" width="140" height="1.5" fill="#222"/>
<g><use href="#bd" fill="#ffd200" transform="translate(581,3339) scale(.26,.25)"/><use href="#bd" fill="#5f9a98" transform="translate(581,3361) scale(.26,.25)"/><use href="#bd" fill="#8dc04a" transform="translate(581,3383) scale(.26,.25)"/><use href="#bd" fill="#9b3f94" transform="translate(581,3406) scale(.26,.25)"/><use href="#bd" fill="#f39200" transform="translate(581,3429) scale(.26,.25)"/></g>
<g class="g" font-size="6" fill="#333"><text x="616" y="3347">Московский вокзал — Парк «Дубки»</text><text x="616" y="3369">Московский вокзал — Центр Сормово</text><text x="616" y="3391">Московский вокзал — Ярошенко</text><text x="616" y="3414">Чёрный пруд — Парк «Дубки»</text><text x="616" y="3437">Трамвайное депо №1 — Московский вокзал</text></g>
<rect x="574" y="3450" width="140" height="1.5" fill="#222"/><rect x="574" y="3504" width="140" height="1.5" fill="#222"/>
<g class="g" font-size="8" fill="#111"><text x="574" y="3598">ecopronn.ru</text><text x="574" y="3608">+7 (831) 200-01-11</text></g>

<!-- poster 3 -->
<g class="ln" stroke-width="4.5">
<path stroke="#ffd200" d="M1516,3068 L1516,3145 L1552,3186 L1552,3455 L1518,3518"/>
<path stroke="#e9548e" d="M1509,3068 L1509,3141 L1463,3186 L1442,3275 L1401,3280 L1377,3308 L1422,3384 L1346,3455 L1246,3429 L1232,3460 L1165,3461"/>
<path stroke="#23915a" d="M1395,3328 L1423,3388 L1215,3600 L1097,3601"/>
<path stroke="#65318e" d="M1275,3358 L1260,3360 L1243,3418 L1342,3453 L1389,3408"/>
</g>
<rect x="1094" y="2978" width="21" height="27" fill="#6aa84f"/>
<g class="g" fill="#111" font-size="9" font-weight="bold"><text x="1123" y="2985">ЭКОЛОГИЧЕСКИЕ</text><text x="1123" y="2994">ПРОЕКТЫ</text></g>
<g class="g" fill="#111" font-size="18" font-weight="bold"><text x="1556" y="2994" class="e">Схема маршрутов</text><text x="1556" y="3015" class="e">Трамвайного депо №3</text></g>
<g class="g" font-size="8.5" fill="#111"><text x="1518" y="3060" class="e">Московский вокзал</text><text x="1403" y="3326">Игарская</text><text x="1282" y="3360">Строкина</text><text x="1340" y="3394">Метро Автозаводская</text><text x="1158" y="3455" class="e">52-й квартал</text><text x="1527" y="3530">Парк «Дубки»</text><text x="1097" y="3613">посёлок Гнилицы</text></g>
<text x="1098" y="3084" class="g" font-size="8" fill="#111">Маршруты трамвая</text><rect x="1094" y="3091" width="136" height="1.5" fill="#222"/>
<g><use href="#bd" fill="#ffd200" transform="translate(1100,3097) scale(.25,.25)"/><use href="#bd" fill="#23915a" transform="translate(1100,3120) scale(.25,.25)"/><use href="#bd" fill="#65318e" transform="translate(1100,3143) scale(.25,.25)"/><use href="#bd" fill="#e9548e" transform="translate(1100,3165) scale(.25,.25)"/></g>
<g class="g" font-size="6" fill="#333"><text x="1134" y="3106">Московский вокзал — Парк «Дубки»</text><text x="1134" y="3129">Игарская — посёлок Гнилицы</text><text x="1134" y="3152">м. Автозаводская — Строкина</text><text x="1134" y="3174">Московский вокзал — 52-й квартал</text></g>
<rect x="1094" y="3188" width="136" height="1.5" fill="#222"/><rect x="1094" y="3244" width="136" height="1" fill="#888"/>
<g class="g" font-size="8" fill="#111"><text x="1556" y="3612" class="e">ecopronn.ru</text><text x="1556" y="3622" class="e">+7 (831) 200-01-11</text></g>

<!-- ============ PHOTO ============ -->
<rect x="0" y="3700" width="622" height="1020" fill="url(#paper)"/>
<g class="g" font-size="20" fill="#555" font-weight="bold" opacity=".7">
<text transform="translate(0,3715) rotate(5)">ствиях, создающих угрозу транспортной безопасности (водителя транспо</text>
<text transform="translate(0,3745) rotate(5)" fill="#888">бований по соблюдению</text>
<text x="0" y="3935" fill="#666">и его ос</text><text x="0" y="3955" fill="#666">ы к тако</text><text x="0" y="3975" fill="#666">нское и</text><text x="0" y="3995" fill="#666">водимое</text><text x="0" y="4015" fill="#666">ваниям</text><text x="0" y="4035" fill="#666">бное и е</text>
<text x="0" y="4110" fill="#888">пределен</text><text x="0" y="4130" fill="#888">в, в отн</text><text x="0" y="4150" fill="#888">асности</text>
</g>
<text x="-5" y="4455" class="g" font-size="64" font-weight="bold" fill="#222">имость проезда</text>
<text x="-20" y="4640" class="g" font-size="130" font-weight="bold" fill="#111">0</text>
<text x="286" y="4718" class="g" font-size="44" fill="#222">картой/</text>
<rect x="622" y="3700" width="590" height="1020" fill="#2e2e2e"/>
<rect x="622" y="3700" width="520" height="110" fill="#e6dfe6"/>
<polygon points="630,3706 1170,3800 1166,4720 620,4720" fill="#e2e3df"/>
<g class="ln" stroke="#b7d2ea"><path stroke-width="14" d="M700,3760 L820,3850 L830,3900 L800,4100 L740,4720"/><path stroke-width="10" d="M820,3860 L1160,3890"/></g>
<g transform="matrix(0.694,0,0,0.8,124,3113)" opacity=".85"><use href="#R"/></g>
<path class="ln" stroke="#233d8b" stroke-width="3" d="M745,3943 L746,4390" opacity=".85"/>
<path class="ln" stroke="#f39200" stroke-width="3" d="M758,3940 L748,4100" opacity=".7"/>
<rect x="664" y="3760" width="12" height="28" fill="#3f8a4f"/><rect x="678" y="3760" width="12" height="28" fill="#3f8a4f"/>
<g class="g" font-size="9" fill="#222" font-weight="bold"><text transform="translate(703,3775) rotate(5)">ЭКОЛОГИЧЕСКИЕ</text><text transform="translate(703,3785) rotate(5)">ПРОЕКТЫ</text></g>
<g class="g" font-size="15" fill="#222"><text transform="translate(1010,3829) rotate(7)">Вас обслуживает</text><text transform="translate(965,3850) rotate(7)">Трамвайное депо №1</text></g>
<rect x="1150" y="3700" width="45" height="1020" fill="#3a3a3a"/>
<rect x="1194" y="3700" width="406" height="1020" fill="url(#win)"/>
<rect x="1220" y="4400" width="360" height="200" fill="#c5cbcf" opacity=".6"/>
<rect x="1560" y="4010" width="30" height="300" fill="#d9dde0" opacity=".7"/>
<g class="g" fill="#fff"><text x="1518" y="4629" class="e" font-size="30">Вараксова Ева</text><text x="1518" y="4668" class="e" font-size="32">dprofile.ru/evaraxova</text></g>

<!-- card 1 -->
<rect x="63" y="3745" width="510" height="661" rx="24" fill="#fff"/>
<use href="#tram" transform="translate(92,3760) scale(1.35,1.2)"/>
<text x="92" y="3943" class="g" font-size="46" fill="#000">Центральный рынок</text>
<rect x="87" y="3955" width="470" height="4" fill="#000"/>
<g class="g" fill="#111" font-size="17" text-anchor="middle"><text x="148" y="4006">Московский</text><text x="148" y="4024">вокзал</text><text x="482" y="4006">Парк</text><text x="482" y="4024">им. 1-го Мая</text></g>
<g class="g" fill="#000" font-size="24" font-weight="bold" text-anchor="middle"><text x="318" y="4000">Центральный</text><text x="318" y="4024">рынок</text></g>
<rect x="110" y="4054" width="463" height="15" fill="#e9548e"/><rect x="110" y="4077" width="463" height="16" fill="#ffd200"/><rect x="110" y="4100" width="463" height="14" fill="#f39200"/>
<rect x="95" y="4048" width="27" height="71" rx="13" fill="#fff" stroke="#111" stroke-width="3"/><circle cx="108" cy="4061" r="6" fill="#e9548e"/><circle cx="108" cy="4084" r="6" fill="#ffd200"/><circle cx="108" cy="4107" r="6" fill="#f39200"/>
<g fill="#fff"><circle cx="317" cy="4061" r="5"/><circle cx="317" cy="4085" r="5"/><circle cx="317" cy="4107" r="5"/><circle cx="483" cy="4061" r="5"/><circle cx="483" cy="4085" r="5"/><circle cx="483" cy="4107" r="5"/></g>
<use href="#bd" fill="#ffd200" transform="translate(92,4141) scale(1.08,1.03)"/><use href="#bd" fill="#f39200" transform="translate(92,4226) scale(1.08,1.03)"/><use href="#bd" fill="#e9548e" transform="translate(92,4311) scale(1.08,1.03)"/>
<g class="g w m" font-size="56"><text x="158" y="4203">3</text><text x="158" y="4288">27</text><text x="158" y="4372" font-size="50">417</text></g>
<g class="g" font-size="26" fill="#111"><text x="238" y="4172">Московский вокзал <tspan fill="#e30613" font-weight="bold" font-size="20">М</tspan></text><text x="238" y="4203">— Парк «Дубки»</text><text x="238" y="4256">Московский вокзал <tspan fill="#e30613" font-weight="bold" font-size="20">М</tspan></text><text x="238" y="4287">— Трамвайное депо №1</text><text x="238" y="4341">Московский вокзал <tspan fill="#e30613" font-weight="bold" font-size="20">М</tspan></text><text x="238" y="4370">—52-й квартал</text></g>

<!-- card 2 -->
<rect x="63" y="4461" width="510" height="216" rx="24" fill="#fff"/>
<use href="#tram" transform="translate(82,4471) scale(0.88,0.78)"/>
<text x="187" y="4548" class="g" font-size="36" fill="#000">Центральный рынок</text>
<rect x="63" y="4594" width="470" height="13" fill="#e9548e"/><rect x="63" y="4618" width="470" height="14" fill="#ffd200"/><rect x="63" y="4641" width="470" height="13" fill="#f39200"/>
<rect x="522" y="4589" width="28" height="72" rx="14" fill="#fff" stroke="#111" stroke-width="3"/><circle cx="536" cy="4601" r="6" fill="#e9548e"/><circle cx="536" cy="4625" r="6" fill="#ffd200"/><circle cx="536" cy="4649" r="6" fill="#f39200"/>
<use href="#bd" fill="#f39200" transform="translate(189,4607) scale(.55,.6)"/><use href="#bd" fill="#ffd200" transform="translate(265,4582) scale(.55,.65)"/><use href="#bd" fill="#e9548e" transform="translate(337,4564) scale(.66,.66)"/>
<g class="g w m" font-size="32"><text x="222" y="4645">27</text><text x="298" y="4623">3</text><text x="377" y="4605">417</text></g>

<!-- card 3 -->
<rect x="1237" y="3745" width="283" height="661" rx="24" fill="#fff"/>
<use href="#tram" transform="translate(1260,3757) scale(1.25,1.07)"/>
<g class="g" font-size="42" fill="#000"><text x="1263" y="3921">Московский</text><text x="1263" y="3960">вокзал</text></g>
<use href="#bd" fill="#ffd200" transform="translate(1270,3984) scale(1.76,1.72)"/><use href="#bd" fill="#f39200" transform="translate(1270,4121) scale(1.76,1.72)"/><use href="#bd" fill="#e9548e" transform="translate(1270,4259) scale(1.76,1.72)"/>
<g class="g w m" font-size="96"><text x="1378" y="4080">3</text><text x="1378" y="4217">27</text><text x="1378" y="4353" font-size="88">417</text></g>
</svg>
</body></html>
